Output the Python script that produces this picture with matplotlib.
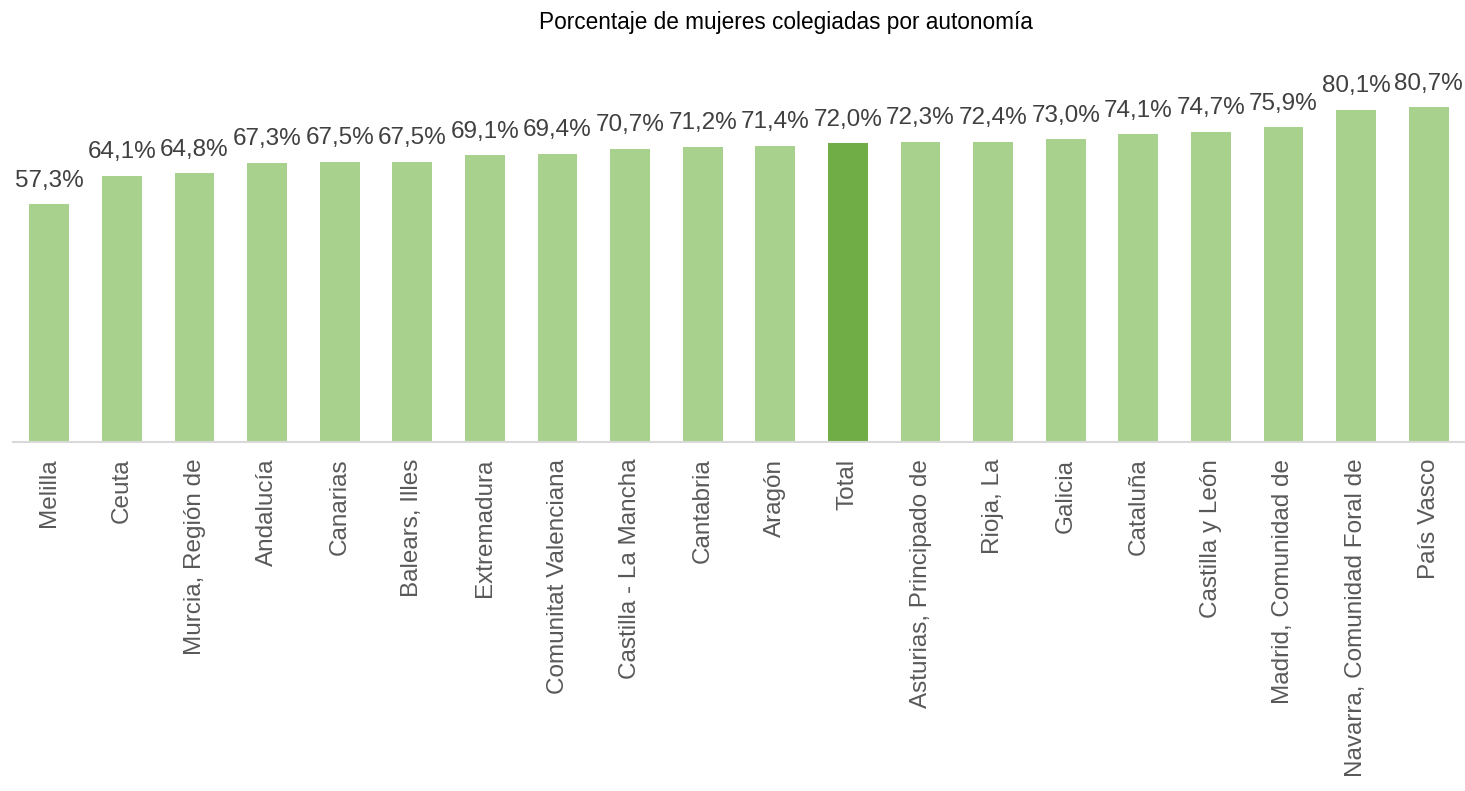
import matplotlib
matplotlib.use("Agg")
import matplotlib.pyplot as plt

plt.rcParams['font.family'] = ['Liberation Sans', 'DejaVu Sans']

# data
regiones = ["Melilla", "Ceuta", "Murcia, Región de", "Andalucía", "Canarias",
            "Balears, Illes", "Extremadura", "Comunitat Valenciana",
            "Castilla - La Mancha", "Cantabria", "Aragón", "Total",
            "Asturias, Principado de", "Rioja, La", "Galicia", "Cataluña",
            "Castilla y León", "Madrid, Comunidad de",
            "Navarra, Comunidad Foral de", "País Vasco"]
porcentaje = [57.3, 64.1, 64.8, 67.3, 67.5, 67.5, 69.1, 69.4, 70.7, 71.2,
              71.4, 72.0, 72.3, 72.4, 73.0, 74.1, 74.7, 75.9, 80.1, 80.7]

light = "#A9D18E"
dark = "#70AD47"
colores = [dark if r == "Total" else light for r in regiones]

fig = plt.figure(figsize=(14.65, 7.91), dpi=100)
ax = fig.add_axes([13 / 1465, 0.4412, 1 - 13 / 1465, 0.4722])

x = range(len(regiones))
bars = ax.bar(x, porcentaje, width=0.55, color=colores)

for b, v in zip(bars, porcentaje):
    ax.annotate(f"{v:.1f}%".replace(".", ","),
                (b.get_x() + b.get_width() / 2, b.get_height()),
                xytext=(0, 9), textcoords="offset points",
                ha="center", va="bottom", fontsize=17.5, color="#404040")

ax.set_xlim(-0.5, len(regiones) - 0.5)
ax.set_ylim(0, 90)
ax.set_xticks(list(x))
ax.set_xticklabels(regiones, rotation=90, fontsize=17.5, color="#595959",
                   va="top", ha="center")
ax.tick_params(axis="x", length=0, pad=12)
ax.set_yticks([])
for s in ["top", "right", "left"]:
    ax.spines[s].set_visible(False)
ax.spines["bottom"].set_color("#D9D9D9")
ax.spines["bottom"].set_linewidth(1.5)

fig.text(786 / 1465, 1 - 23 / 791, "Porcentaje de mujeres colegiadas por autonomía",
         ha="center", va="center", fontsize=16.3, color="#000000")

fig.savefig("out.png", dpi=100)
